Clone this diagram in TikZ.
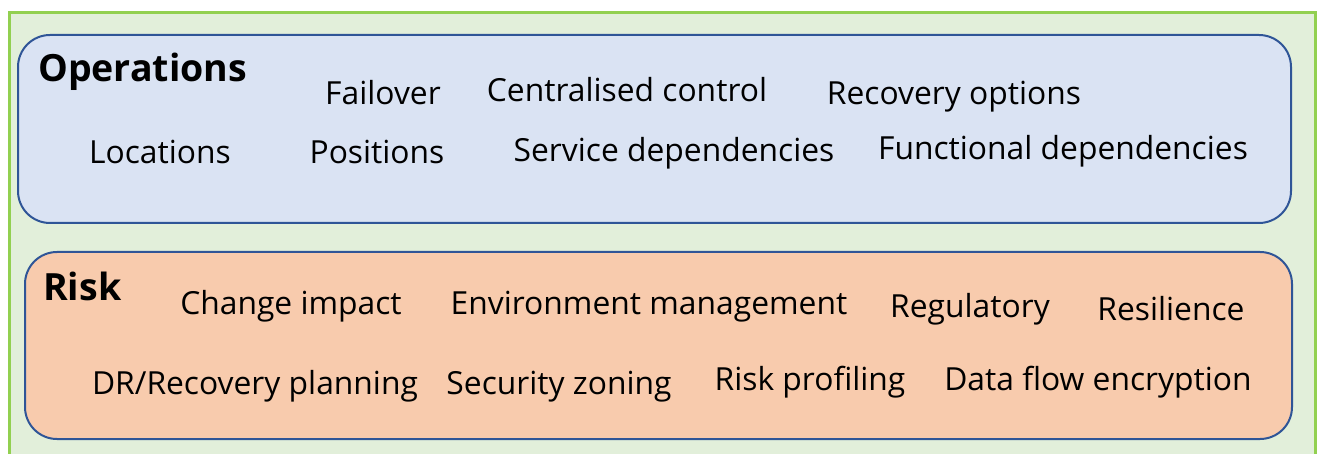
\documentclass[tikz,border=0pt]{standalone}
\usepackage{fontspec}
\setmainfont{Open Sans}
\definecolor{outerfill}{HTML}{E2EFDA}
\definecolor{outerline}{HTML}{92D050}
\definecolor{bluefill}{HTML}{DAE3F3}
\definecolor{orangefill}{HTML}{F8CBAD}
\definecolor{boxline}{HTML}{2F5597}
\tikzset{
  item/.style={anchor=base, inner sep=0pt, font=\fontsize{31.8}{36}\selectfont},
  title/.style={anchor=base west, inner sep=0pt, font=\fontsize{37.5}{42}\selectfont\bfseries},
  panel/.style={draw=boxline, line width=2pt, rounded corners=32pt}
}
\begin{document}
\begin{tikzpicture}[x=1pt,y=-1pt]
\useasboundingbox (0,0) rectangle (1323,454);
\fill[white] (0,0) rectangle (1323,454);
\begin{scope}
\clip (0,0) rectangle (1323,454);
\draw[fill=outerfill, draw=outerline, line width=3pt] (9,13) rectangle (1315,480);
\end{scope}
\draw[panel, fill=bluefill] (18,35) rectangle (1291,223);
\draw[panel, fill=orangefill] (25,252) rectangle (1292,439);
% Operations
\node[title] (ops) at (38,82) {Operations};
\node[item] (failover) at (383,105) {Failover};
\node[item] (central) at (627,102) {Centralised control};
\node[item] (recopt) at (954,105) {Recovery options};
\node[item] (loc) at (160,164) {Locations};
\node[item] (pos) at (377,164) {Positions};
\node[item] (servdep) at (674,162) {Service dependencies};
\node[item] (funcdep) at (1063,160) {Functional dependencies};
% Risk
\node[title] (risk) at (43,301) {Risk};
\node[item] (change) at (291,315) {Change impact};
\node[item] (envmgmt) at (649,315) {Environment management};
\node[item] (reg) at (970,318) {Regulatory};
\node[item] (resil) at (1171,321) {Resilience};
\node[item] (drplan) at (255,394) {DR/Recovery planning};
\node[item] (seczone) at (559,394) {Security zoning};
\node[item] (riskprof) at (810,390) {Risk profiling};
\node[item] (dataflow) at (1098,390) {Data flow encryption};
\end{tikzpicture}
\end{document}
